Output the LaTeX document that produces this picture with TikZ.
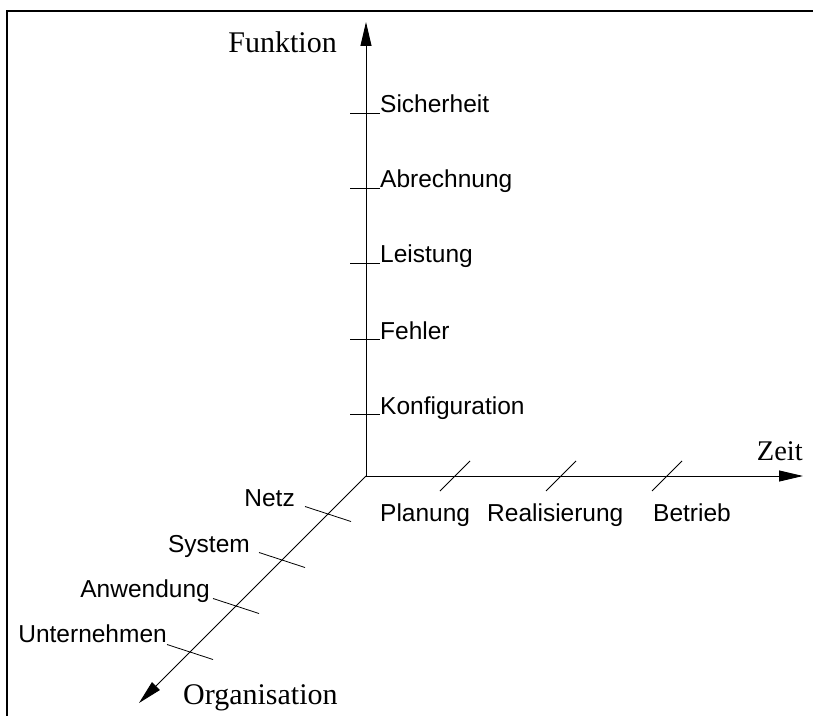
\documentclass[tikz,border=0pt]{standalone}
\usepackage{fontspec}
\setmainfont{Liberation Serif}
\setsansfont{Liberation Sans}
\usetikzlibrary{arrows.meta,calc}

\begin{document}
\begin{tikzpicture}[
  x=1pt, y=1pt,
  >={Triangle[length=24pt,width=11pt]},
  axis/.style={line width=0.9pt},
  tick/.style={line width=0.8pt},
  lab/.style={font=\sffamily\fontsize{24.5}{28}\selectfont, inner sep=0pt},
  axlab/.style={font=\fontsize{30}{34}\selectfont, inner sep=0pt}
]
  \useasboundingbox (-366,-239) rectangle (447,476);

  % Frame
  \draw[line width=2.2pt] (-359,-250) -- (-359,465) -- (460,465);

  % Axes
  \coordinate (o) at (0,0);
  \coordinate (funktion-end) at (0,454);
  \coordinate (zeit-end) at (437,0);
  \coordinate (org-end) at (-227,-227);
  \draw[axis,->] (o) -- (funktion-end);
  \draw[axis,->] (o) -- (zeit-end);
  \draw[axis,->] (o) -- (org-end);

  \node[axlab, anchor=base east] (funktion) at (-29,423) {Funktion};
  \node[axlab, anchor=base east, font=\fontsize{28.5}{32}\selectfont]
    (zeit) at (437,16) {Zeit};
  \node[axlab, anchor=base west] (organisation) at (-183,-228)
    {Organisation};

  % Funktion ticks
  \coordinate (konf) at (0,62);
  \coordinate (fehler) at (0,137);
  \coordinate (leistung) at (0,213);
  \coordinate (abr) at (0,288);
  \coordinate (sich) at (0,363);
  \draw[tick] ([xshift=-16pt]konf) -- ([xshift=14pt]konf);
  \draw[tick] ([xshift=-16pt]fehler) -- ([xshift=14pt]fehler);
  \draw[tick] ([xshift=-16pt]leistung) -- ([xshift=14pt]leistung);
  \draw[tick] ([xshift=-16pt]abr) -- ([xshift=14pt]abr);
  \draw[tick] ([xshift=-16pt]sich) -- ([xshift=14pt]sich);
  \node[lab, anchor=base west] (konf-l) at ([xshift=14pt]konf) {Konfiguration};
  \node[lab, anchor=base west] (fehler-l) at ([xshift=14pt]fehler) {Fehler};
  \node[lab, anchor=base west] (leistung-l) at ([xshift=14pt]leistung) {Leistung};
  \node[lab, anchor=base west] (abr-l) at ([xshift=14pt]abr) {Abrechnung};
  \node[lab, anchor=base west] (sich-l) at ([xshift=14pt]sich) {Sicherheit};

  % Zeit ticks
  \coordinate (plan) at (89,0);
  \coordinate (real) at (195,0);
  \coordinate (betr) at (301,0);
  \draw[tick] ($(plan)+(-15,-15)$) -- ($(plan)+(15,15)$);
  \draw[tick] ($(real)+(-15,-15)$) -- ($(real)+(15,15)$);
  \draw[tick] ($(betr)+(-15,-15)$) -- ($(betr)+(15,15)$);
  \node[lab, anchor=base west] (plan-l) at (14,-45) {Planung};
  \node[lab, anchor=base west] (real-l) at (121,-45) {Realisierung};
  \node[lab, anchor=base west] (betr-l) at (287,-45) {Betrieb};

  % Organisation ticks
  \coordinate (netz) at (-38,-38);
  \coordinate (sys) at (-84,-84);
  \coordinate (anw) at (-130,-130);
  \coordinate (unt) at (-176,-176);
  \draw[tick] ($(netz)+(-23,7.5)$) -- ($(netz)+(23,-7.5)$);
  \draw[tick] ($(sys)+(-23,7.5)$) -- ($(sys)+(23,-7.5)$);
  \draw[tick] ($(anw)+(-23,7.5)$) -- ($(anw)+(23,-7.5)$);
  \draw[tick] ($(unt)+(-23,7.5)$) -- ($(unt)+(23,-7.5)$);
  \node[lab, anchor=base east] (netz-l) at ($(netz)+(-33,7.5)$) {Netz};
  \node[lab, anchor=base east] (sys-l) at ($(sys)+(-32,8)$) {System};
  \node[lab, anchor=base east] (anw-l) at ($(anw)+(-26,9)$) {Anwendung};
  \node[lab, anchor=base east] (unt-l) at ($(unt)+(-23,10)$) {Unternehmen};
\end{tikzpicture}
\end{document}
